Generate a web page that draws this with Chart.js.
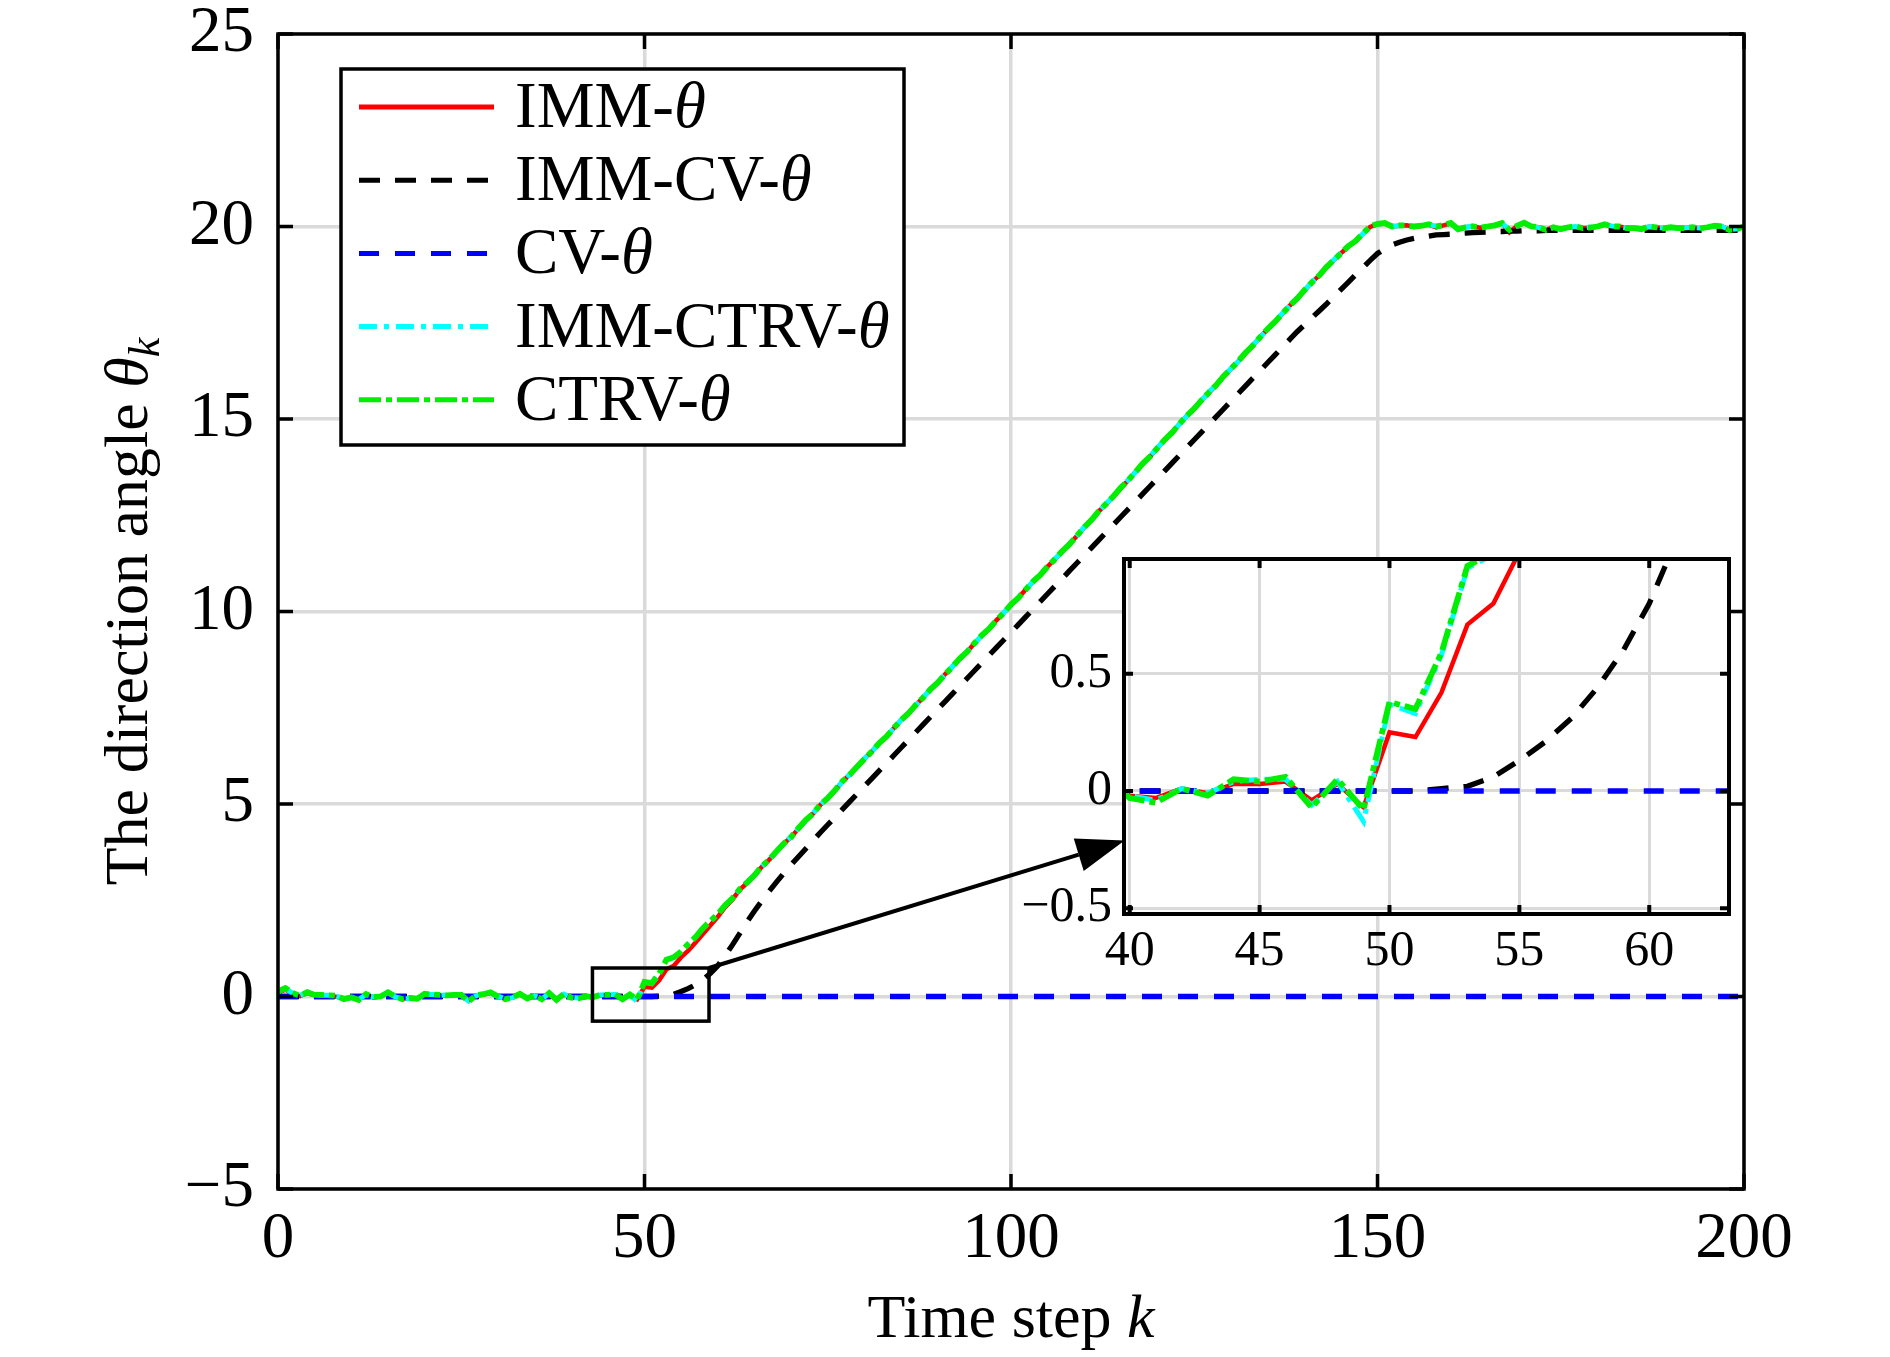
<!DOCTYPE html>
<html>
<head>
<meta charset="utf-8">
<script src="https://cdn.jsdelivr.net/npm/chart.js@4.4.1/dist/chart.umd.min.js"></script>
<style>
  html, body { margin: 0; padding: 0; background: #fff; }
  #wrap { position: relative; width: 1890px; height: 1357px; }
  canvas { position: absolute; }
  #main { left: 0; top: 0; }
  #inset { left: 1020px; top: 540px; }
</style>
</head>
<body>
<div id="wrap">
  <canvas id="main" width="1890" height="1357"></canvas>
  <canvas id="inset" width="740" height="460"></canvas>
</div>
<script>
// time steps k = 0..200
const steps = Array.from({length: 201}, (_, k) => k);

const xTicks = [0, 50, 100, 150, 200];
const yTicks = [-5, 0, 5, 10, 15, 20, 25];
const zoomXTicks = [40, 45, 50, 55, 60];
const zoomYTicks = [-0.5, 0, 0.5];

const seriesNames = ['IMM-θ', 'IMM-CV-θ', 'CV-θ', 'IMM-CTRV-θ', 'CTRV-θ'];

const immTheta = [
  0.10,0.18,0.07,0.01,0.09,0.03,0.03,0.02,-0.01,-0.06,
  -0.03,-0.08,0.05,-0.03,0.01,0.09,-0.01,-0.06,-0.04,-0.05,
  0.06,0.04,0.03,0.02,0.03,0.03,-0.11,0.02,0.05,0.09,
  0.00,-0.06,-0.02,0.06,-0.04,0.02,-0.06,0.07,-0.07,0.05,
  -0.02,-0.03,0.01,-0.01,0.03,0.03,0.04,-0.04,0.03,-0.07,
  0.25,0.23,0.42,0.71,0.80,1.02,1.20,1.41,1.63,1.85,
  2.07,2.32,2.52,2.77,2.95,3.14,3.37,3.55,3.76,3.97,
  4.14,4.36,4.58,4.75,4.98,5.15,5.36,5.58,5.76,5.97,
  6.17,6.36,6.58,6.75,6.97,7.17,7.35,7.57,7.76,7.97,
  8.15,8.37,8.56,8.77,8.95,9.17,9.37,9.55,9.77,9.96,
  10.17,10.35,10.57,10.77,10.95,11.17,11.36,11.56,11.75,11.97,
  12.18,12.38,12.61,12.79,13.00,13.21,13.41,13.63,13.84,14.03,
  14.25,14.46,14.65,14.88,15.08,15.27,15.49,15.68,15.88,16.10,
  16.30,16.50,16.71,16.91,17.13,17.33,17.52,17.73,17.94,18.12,
  18.33,18.54,18.72,18.93,19.12,19.30,19.48,19.62,19.81,19.99,
  20.06,20.08,20.00,20.02,20.03,19.99,20.02,20.05,19.98,20.03,
  20.08,19.93,19.98,20.00,19.97,19.99,20.03,20.08,19.85,20.01,
  20.09,20.00,19.98,19.92,19.98,19.93,19.98,19.99,19.96,19.97,
  20.00,20.05,20.00,20.00,19.96,19.96,19.94,19.99,19.98,19.95,
  19.98,19.96,19.96,19.98,19.95,19.98,20.01,20.00,19.92,19.93,
  20.00
];

const immCvTheta = [
  0,0,0,0,0,0,0,0,0,0,
  0,0,0,0,0,0,0,0,0,0,
  0,0,0,0,0,0,0,0,0,0,
  0,0,0,0,0,0,0,0,0,0,
  0,0,0,0,0,0,0,0,0,0,
  0.00,0.00,0.01,0.02,0.06,0.13,0.21,0.31,0.44,0.60,
  0.80,1.06,1.34,1.64,1.94,2.22,2.48,2.73,2.97,3.20,
  3.42,3.63,3.84,4.05,4.26,4.46,4.66,4.86,5.06,5.26,
  5.46,5.66,5.86,6.06,6.26,6.46,6.66,6.86,7.06,7.26,
  7.46,7.66,7.86,8.06,8.26,8.46,8.66,8.86,9.06,9.26,
  9.46,9.66,9.86,10.06,10.26,10.46,10.66,10.86,11.06,11.26,
  11.46,11.66,11.86,12.06,12.26,12.46,12.66,12.86,13.06,13.26,
  13.46,13.66,13.86,14.06,14.26,14.46,14.66,14.86,15.06,15.26,
  15.46,15.66,15.86,16.06,16.26,16.46,16.66,16.86,17.06,17.26,
  17.44,17.62,17.80,17.98,18.17,18.36,18.55,18.74,18.93,19.12,
  19.30,19.42,19.52,19.59,19.65,19.69,19.72,19.75,19.78,19.79,
  19.80,19.82,19.83,19.84,19.85,19.86,19.87,19.87,19.88,19.88,
  19.89,19.89,19.89,19.90,19.90,19.90,19.90,19.90,19.90,19.90,
  19.90,19.90,19.90,19.90,19.90,19.90,19.90,19.90,19.90,19.90,
  19.90,19.90,19.90,19.90,19.90,19.90,19.90,19.90,19.90,19.90,
  19.90
];

const cvTheta = [
  0,0,0,0,0,0,0,0,0,0,0,0,0,0,0,0,0,0,0,0,
  0,0,0,0,0,0,0,0,0,0,0,0,0,0,0,0,0,0,0,0,
  0,0,0,0,0,0,0,0,0,0,0,0,0,0,0,0,0,0,0,0,
  0,0,0,0,0,0,0,0,0,0,0,0,0,0,0,0,0,0,0,0,
  0,0,0,0,0,0,0,0,0,0,0,0,0,0,0,0,0,0,0,0,
  0,0,0,0,0,0,0,0,0,0,0,0,0,0,0,0,0,0,0,0,
  0,0,0,0,0,0,0,0,0,0,0,0,0,0,0,0,0,0,0,0,
  0,0,0,0,0,0,0,0,0,0,0,0,0,0,0,0,0,0,0,0,
  0,0,0,0,0,0,0,0,0,0,0,0,0,0,0,0,0,0,0,0,
  0,0,0,0,0,0,0,0,0,0,0,0,0,0,0,0,0,0,0,0,
  0
];

const immCtrvTheta = [
  0.12,0.21,0.08,0.03,0.10,0.05,0.03,0.03,0.01,-0.06,
  -0.03,-0.08,0.05,-0.01,0.01,0.10,-0.01,-0.06,-0.05,-0.05,
  0.06,0.05,0.03,0.04,0.03,0.05,-0.12,0.02,0.07,0.10,
  0.01,-0.06,-0.03,0.06,-0.04,0.02,-0.06,0.08,-0.08,0.06,
  -0.02,-0.04,0.01,-0.01,0.04,0.05,0.05,-0.06,0.04,-0.13,
  0.37,0.33,0.58,0.95,1.01,1.17,1.36,1.56,1.77,1.96,
  2.15,2.36,2.56,2.78,2.97,3.15,3.37,3.56,3.76,3.98,
  4.15,4.36,4.57,4.76,4.98,5.16,5.36,5.58,5.77,5.96,
  6.18,6.36,6.57,6.76,6.96,7.18,7.36,7.56,7.77,7.97,
  8.16,8.36,8.57,8.77,8.96,9.16,9.38,9.56,9.76,9.97,
  10.17,10.36,10.56,10.78,10.96,11.16,11.37,11.56,11.76,11.96,
  12.20,12.37,12.60,12.81,12.99,13.23,13.42,13.62,13.84,14.04,
  14.26,14.46,14.66,14.87,15.08,15.28,15.48,15.70,15.89,16.10,
  16.31,16.49,16.73,16.92,17.12,17.33,17.53,17.74,17.93,18.13,
  18.33,18.55,18.73,18.93,19.13,19.31,19.48,19.63,19.81,19.99,
  20.06,20.08,20.01,20.02,20.04,20.00,20.01,20.05,20.01,20.03,
  20.08,19.94,19.98,20.01,19.96,20.00,20.02,20.08,19.92,20.01,
  20.09,20.01,19.97,19.92,19.98,19.94,19.97,20.00,19.96,19.98,
  20.00,20.05,20.01,19.99,19.96,19.97,19.94,19.99,19.98,19.96,
  19.97,19.96,19.97,19.98,19.96,19.97,20.01,20.00,19.92,19.94,
  19.99
];

const ctrvTheta = [
  0.13,0.22,0.09,0.02,0.11,0.04,0.04,0.03,0.02,-0.07,
  -0.02,-0.09,0.06,-0.02,0.00,0.11,0.00,-0.07,-0.04,-0.06,
  0.07,0.05,0.04,0.03,0.04,0.04,-0.13,0.03,0.06,0.11,
  0.00,-0.07,-0.02,0.07,-0.05,0.03,-0.07,0.09,-0.09,0.07,
  -0.03,-0.05,0.01,-0.02,0.05,0.04,0.06,-0.07,0.05,-0.08,
  0.38,0.35,0.59,0.96,1.02,1.17,1.37,1.55,1.78,1.96,
  2.14,2.37,2.55,2.79,2.96,3.15,3.38,3.55,3.77,3.97,
  4.14,4.37,4.58,4.75,4.99,5.15,5.36,5.59,5.76,5.97,
  6.17,6.36,6.58,6.75,6.97,7.18,7.35,7.57,7.76,7.98,
  8.15,8.37,8.56,8.78,8.95,9.17,9.38,9.55,9.77,9.96,
  10.18,10.35,10.57,10.78,10.95,11.17,11.36,11.57,11.75,11.97,
  12.19,12.38,12.61,12.80,13.00,13.22,13.41,13.63,13.85,14.03,
  14.25,14.47,14.65,14.88,15.09,15.27,15.49,15.69,15.88,16.11,
  16.30,16.50,16.72,16.91,17.13,17.34,17.52,17.73,17.94,18.12,
  18.34,18.54,18.72,18.94,19.12,19.30,19.49,19.62,19.82,20.00,
  20.07,20.09,20.00,20.03,20.03,20.00,20.02,20.06,20.00,20.04,
  20.09,19.93,19.98,20.00,19.97,20.00,20.03,20.09,19.91,20.02,
  20.10,20.00,19.98,19.91,19.98,19.93,19.98,20.00,19.96,19.97,
  20.00,20.06,20.00,20.00,19.96,19.96,19.93,20.00,19.98,19.95,
  19.98,19.96,19.96,19.98,19.95,19.98,20.02,20.00,19.91,19.93,
  20.00
];

// zoom box drawn on the main plot (data units) and where the arrow ends
const zoomBox = {x0: 42.9, x1: 58.8, y0: -0.64, y1: 0.74};
const arrowTip = {x: 115.5, y: 4.05};

const FONT = '"Liberation Serif", "Times New Roman", serif';
const GRID = '#dadada';

function pts(arr) {
  return steps.map((k, i) => ({x: k, y: arr[i]}));
}

function makeDatasets(w) {
  return [
    {label: seriesNames[0], data: pts(immTheta), borderColor: '#ff0000', borderWidth: w, order: 5},
    {label: seriesNames[1], data: pts(immCvTheta), borderColor: '#000000', borderWidth: w + 0.8, borderDash: [21, 15], order: 4},
    {label: seriesNames[2], data: pts(cvTheta), borderColor: '#0000ff', borderWidth: w + 0.8, borderDash: [20, 16], order: 3},
    {label: seriesNames[3], data: pts(immCtrvTheta), borderColor: '#00ffff', borderWidth: w + 0.5, borderDash: [18, 7, 5, 7], order: 2},
    {label: seriesNames[4], data: pts(ctrvTheta), borderColor: '#00ee00', borderWidth: w + 1.3, borderDash: [22, 5, 6, 5], borderDashOffset: 10, order: 1}
  ].map(d => Object.assign({pointRadius: 0, tension: 0, fill: false, borderCapStyle: 'butt'}, d));
}

const minus = v => String(v).replace('-', '\u2212');

// text with italic / subscript parts
function richWidth(ctx, parts) {
  let w = 0;
  for (const p of parts) {
    ctx.font = (p.it ? 'italic ' : '') + p.size + 'px ' + FONT;
    w += ctx.measureText(p.t).width;
  }
  return w;
}
function drawRich(ctx, parts, x, y) {
  for (const p of parts) {
    ctx.font = (p.it ? 'italic ' : '') + p.size + 'px ' + FONT;
    ctx.fillText(p.t, x, y + (p.dy || 0));
    x += ctx.measureText(p.t).width;
  }
}

const whiteBg = {
  id: 'whiteBg',
  beforeDraw(chart, args, opts) {
    const {ctx, chartArea: a} = chart;
    ctx.save();
    ctx.fillStyle = '#fff';
    if (opts.full) ctx.fillRect(0, 0, chart.width, chart.height);
    else ctx.fillRect(a.left, a.top, a.right - a.left, a.bottom - a.top);
    ctx.restore();
  }
};

// MATLAB style box with inward ticks on all four sides
const frame = {
  id: 'frame',
  afterDatasetsDraw(chart, args, opts) {
    const {ctx, chartArea: a, scales} = chart;
    ctx.save();
    ctx.strokeStyle = '#000';
    ctx.lineWidth = opts.width;
    ctx.setLineDash([]);
    ctx.beginPath();
    for (const t of scales.x.ticks) {
      const px = scales.x.getPixelForValue(t.value);
      ctx.moveTo(px, a.bottom); ctx.lineTo(px, a.bottom - opts.len);
      ctx.moveTo(px, a.top); ctx.lineTo(px, a.top + opts.len);
    }
    for (const t of scales.y.ticks) {
      const py = scales.y.getPixelForValue(t.value);
      ctx.moveTo(a.left, py); ctx.lineTo(a.left + opts.len, py);
      ctx.moveTo(a.right, py); ctx.lineTo(a.right - opts.len, py);
    }
    ctx.stroke();
    ctx.strokeRect(a.left, a.top, a.right - a.left, a.bottom - a.top);
    ctx.restore();
  }
};

// legend, zoom box, arrow and axis titles on the main chart
const extras = {
  id: 'extras',
  afterDraw(chart) {
    const {ctx, scales} = chart;
    const xs = scales.x, ys = scales.y;
    ctx.save();
    ctx.strokeStyle = '#000';
    ctx.fillStyle = '#000';
    ctx.lineWidth = 3.5;
    ctx.setLineDash([]);

    // zoom rectangle
    const rx0 = xs.getPixelForValue(zoomBox.x0), rx1 = xs.getPixelForValue(zoomBox.x1);
    const ry0 = ys.getPixelForValue(zoomBox.y1), ry1 = ys.getPixelForValue(zoomBox.y0);
    ctx.strokeRect(rx0, ry0, rx1 - rx0, ry1 - ry0);

    // arrow
    const tx = xs.getPixelForValue(arrowTip.x), ty = ys.getPixelForValue(arrowTip.y);
    const ang = Math.atan2(ty - ry0, tx - rx1);
    const hl = 48, hw = 17;
    const bx = tx - hl * Math.cos(ang), by = ty - hl * Math.sin(ang);
    ctx.lineWidth = 4;
    ctx.beginPath();
    ctx.moveTo(rx1, ry0);
    ctx.lineTo(bx, by);
    ctx.stroke();
    ctx.beginPath();
    ctx.moveTo(tx, ty);
    ctx.lineTo(bx + hw * Math.sin(ang), by - hw * Math.cos(ang));
    ctx.lineTo(bx - hw * Math.sin(ang), by + hw * Math.cos(ang));
    ctx.closePath();
    ctx.fill();
    ctx.lineWidth = 3.5;

    // legend
    const L = {x: 341, y: 69, w: 563, h: 376, row0: 107, dy: 73.2, l0: 359, l1: 494, tx: 515};
    ctx.fillStyle = '#fff';
    ctx.fillRect(L.x, L.y, L.w, L.h);
    ctx.strokeRect(L.x, L.y, L.w, L.h);
    chart.data.datasets.forEach((d, i) => {
      const y = L.row0 + i * L.dy;
      ctx.save();
      ctx.strokeStyle = d.borderColor;
      ctx.lineWidth = 5;
      ctx.setLineDash(d.borderDash || []);
      ctx.lineDashOffset = 0;
      ctx.beginPath();
      ctx.moveTo(L.l0, y);
      ctx.lineTo(L.l1, y);
      ctx.stroke();
      ctx.restore();
      ctx.fillStyle = '#000';
      ctx.textBaseline = 'middle';
      ctx.textAlign = 'left';
      const name = d.label;
      drawRich(ctx, [{t: name.slice(0, -1), size: 65}, {t: name.slice(-1), size: 65, it: true}], L.tx, y + 3);
    });

    // axis titles
    ctx.fillStyle = '#000';
    ctx.textBaseline = 'alphabetic';
    ctx.textAlign = 'left';
    const xt = [{t: 'Time step ', size: 62}, {t: 'k', size: 62, it: true}];
    const xw = richWidth(ctx, xt);
    drawRich(ctx, xt, (chart.chartArea.left + chart.chartArea.right) / 2 - xw / 2, 1337);

    const yt = [{t: 'The direction angle ', size: 62}, {t: 'θ', size: 62, it: true}, {t: 'k', size: 44, it: true, dy: 12}];
    const yw = richWidth(ctx, yt);
    ctx.translate(147, (chart.chartArea.top + chart.chartArea.bottom) / 2);
    ctx.rotate(-Math.PI / 2);
    drawRich(ctx, yt, -yw / 2, 0);
    ctx.restore();
  }
};

function axis(min, max, tickVals, fontSize, pad, fit) {
  return {
    type: 'linear',
    min: min,
    max: max,
    afterBuildTicks: s => { s.ticks = tickVals.map(v => ({value: v})); },
    afterFit: s => {
      fit(s);
      // keep the plot box where it is, tick labels may overhang
      s.paddingTop = 0; s.paddingBottom = 0; s.paddingLeft = 0; s.paddingRight = 0;
    },
    grid: {color: GRID, lineWidth: 3.5, drawTicks: false},
    border: {display: false},
    ticks: {
      autoSkip: false,
      maxRotation: 0,
      padding: pad,
      color: '#000',
      font: {family: FONT, size: fontSize},
      callback: v => minus(v)
    }
  };
}

new Chart(document.getElementById('main'), {
  type: 'line',
  data: {datasets: makeDatasets(4.5)},
  options: {
    responsive: false,
    animation: false,
    devicePixelRatio: 1,
    layout: {padding: {left: 0, top: 34, right: 146, bottom: 0}},
    scales: {
      x: axis(0, 200, xTicks, 65, 12, s => { s.height = 168; }),
      y: axis(-5, 25, yTicks, 65, 24, s => { s.width = 278; })
    },
    plugins: {
      legend: {display: false},
      tooltip: {enabled: false},
      whiteBg: {full: true},
      frame: {width: 3.5, len: 15}
    }
  },
  plugins: [whiteBg, frame, extras]
});

const zx = axis(39.78, 63.07, zoomXTicks, 50, 8, s => { s.height = 86; });
const zy = axis(-0.525, 0.99, zoomYTicks, 50, 12, s => { s.width = 104; });
zx.grid.lineWidth = 3;
zy.grid.lineWidth = 3;

new Chart(document.getElementById('inset'), {
  type: 'line',
  data: {datasets: makeDatasets(4.5)},
  options: {
    responsive: false,
    animation: false,
    devicePixelRatio: 1,
    layout: {padding: {left: 0, top: 19, right: 31, bottom: 0}},
    scales: {x: zx, y: zy},
    plugins: {
      legend: {display: false},
      tooltip: {enabled: false},
      whiteBg: {full: false},
      frame: {width: 4, len: 9}
    }
  },
  plugins: [whiteBg, frame]
});
</script>
</body>
</html>
